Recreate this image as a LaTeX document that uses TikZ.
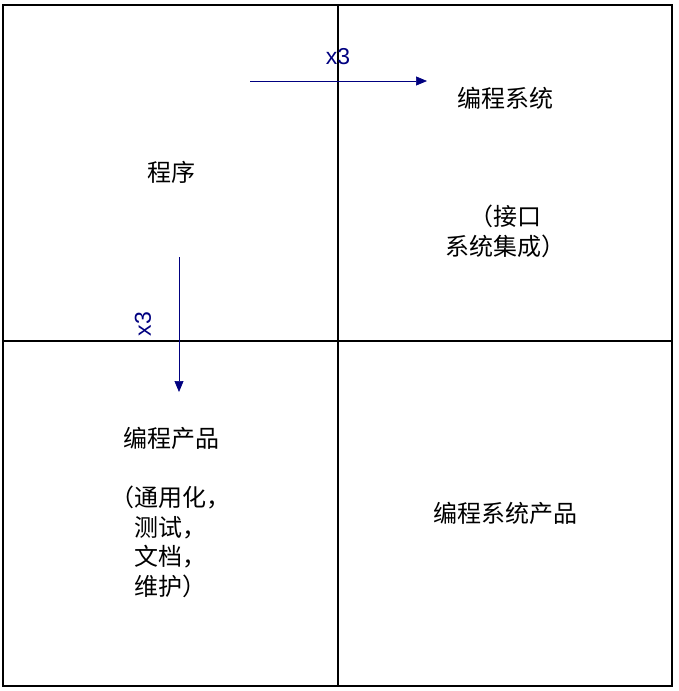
\documentclass[tikz,border=0pt]{standalone}
\usepackage{fontspec}
\newfontfamily\cjk{Noto Sans CJK SC}
\setsansfont{Liberation Sans}
\usepackage{tikz}
\usetikzlibrary{arrows.meta}
\tikzstyle{cell text}=[font=\cjk\fontsize{24}{29.5}\selectfont,align=center,inner sep=0pt]
\tikzstyle{frame}=[draw,black,line width=1.1pt]
\tikzstyle{arrow}=[draw,navy,line width=0.7pt,-{Triangle[length=11pt,width=9pt]}]
\tikzstyle{factor}=[font=\sffamily\fontsize{23}{23}\selectfont,text=navy,inner sep=0pt]
\definecolor{navy}{RGB}{0,0,128}

\begin{document}
\begin{tikzpicture}[x=1pt,y=-1pt]
    \useasboundingbox (0,0) rectangle (679,691);
    % quadrants
    \path[frame] (3,5) rectangle (672,686);
    \path[frame] (338,5) -- (338,686);
    \path[frame] (3,341) -- (672,341);
    % texts
    \node[cell text] (prog) at (171,172) {程序};
    \node[cell text] (sys) at (505,98) {编程系统};
    \node[cell text] (sysnote) at (505,231.5) {（接口\\系统集成）};
    \node[cell text] (prod) at (171,438) {编程产品};
    \node[cell text] (prodnote) at (170,542) {（通用化，\\测试，\\文档，\\维护）};
    \node[cell text] (sysprod) at (505,513) {编程系统产品};
    % x3 arrows
    \coordinate (h0) at (250,81);
    \coordinate (h1) at (427,81);
    \coordinate (v0) at (179,257);
    \coordinate (v1) at (179,392);
    \path[arrow] (h0) -- (h1);
    \path[arrow] (v0) -- (v1);
    \node[factor] (hx) at (338,57) {x3};
    \node[factor,rotate=90] (vx) at (143,324) {x3};
\end{tikzpicture}
\end{document}
